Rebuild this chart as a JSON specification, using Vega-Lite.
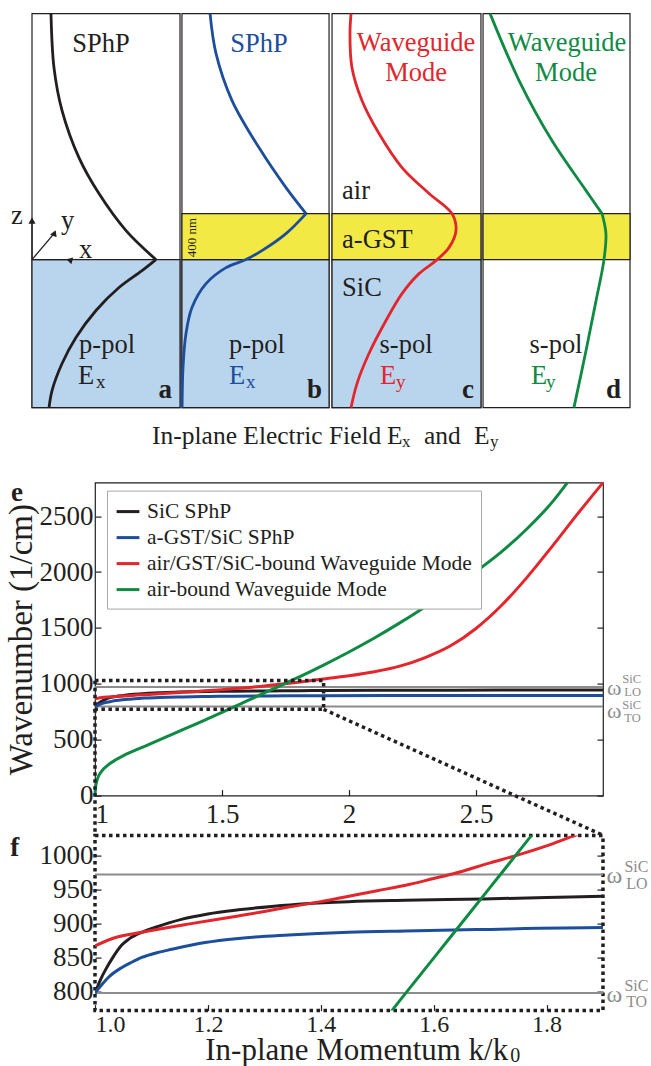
{
  "$schema": "https://vega.github.io/schema/vega-lite/v6.json",
  "autosize": {"type": "pad"},
  "padding": {"left": 4, "top": 7.6, "right": 0, "bottom": 0},
  "background": "white",
  "config": {
    "font": "Liberation Serif",
    "view": {"stroke": null},
    "axis": {"grid": false, "domain": false, "labelFontSize": 27, "labelColor": "#231f20", "tickColor": "#231f20", "tickWidth": 1.2, "tickSize": -6, "titleColor": "#231f20", "titleFontWeight": "normal"}
  },
  "bounds": "flush",
  "spacing": 40,
  "resolve": {"scale": {"color": "independent"}, "legend": {"color": "independent"}},
  "datasets": {
    "curves": [
      {"s": "SiC SPhP", "k": 1.0, "w": 798}, {"s": "SiC SPhP", "k": 1.01, "w": 818}, {"s": "SiC SPhP", "k": 1.02, "w": 834}, {"s": "SiC SPhP", "k": 1.03, "w": 848},
      {"s": "SiC SPhP", "k": 1.047, "w": 868}, {"s": "SiC SPhP", "k": 1.06, "w": 877}, {"s": "SiC SPhP", "k": 1.083, "w": 887}, {"s": "SiC SPhP", "k": 1.106, "w": 894},
      {"s": "SiC SPhP", "k": 1.153, "w": 906}, {"s": "SiC SPhP", "k": 1.2, "w": 914}, {"s": "SiC SPhP", "k": 1.254, "w": 920}, {"s": "SiC SPhP", "k": 1.313, "w": 925},
      {"s": "SiC SPhP", "k": 1.372, "w": 929}, {"s": "SiC SPhP", "k": 1.449, "w": 932}, {"s": "SiC SPhP", "k": 1.55, "w": 934}, {"s": "SiC SPhP", "k": 1.688, "w": 936},
      {"s": "SiC SPhP", "k": 1.8, "w": 938}, {"s": "SiC SPhP", "k": 1.9, "w": 940}, {"s": "SiC SPhP", "k": 2.2, "w": 942}, {"s": "SiC SPhP", "k": 2.6, "w": 944}, {"s": "SiC SPhP", "k": 3.0, "w": 945},
      {"s": "a-GST/SiC SPhP", "k": 1.0, "w": 798}, {"s": "a-GST/SiC SPhP", "k": 1.012, "w": 810}, {"s": "a-GST/SiC SPhP", "k": 1.024, "w": 821}, {"s": "a-GST/SiC SPhP", "k": 1.047, "w": 835},
      {"s": "a-GST/SiC SPhP", "k": 1.065, "w": 843}, {"s": "a-GST/SiC SPhP", "k": 1.083, "w": 850}, {"s": "a-GST/SiC SPhP", "k": 1.11, "w": 857}, {"s": "a-GST/SiC SPhP", "k": 1.136, "w": 862},
      {"s": "a-GST/SiC SPhP", "k": 1.195, "w": 872}, {"s": "a-GST/SiC SPhP", "k": 1.254, "w": 878}, {"s": "a-GST/SiC SPhP", "k": 1.343, "w": 883}, {"s": "a-GST/SiC SPhP", "k": 1.449, "w": 887},
      {"s": "a-GST/SiC SPhP", "k": 1.55, "w": 889}, {"s": "a-GST/SiC SPhP", "k": 1.676, "w": 891}, {"s": "a-GST/SiC SPhP", "k": 1.9, "w": 894}, {"s": "a-GST/SiC SPhP", "k": 2.4, "w": 895}, {"s": "a-GST/SiC SPhP", "k": 3.0, "w": 896},
      {"s": "air/GST/SiC-bound Waveguide Mode", "k": 1.0, "w": 867}, {"s": "air/GST/SiC-bound Waveguide Mode", "k": 1.035, "w": 879}, {"s": "air/GST/SiC-bound Waveguide Mode", "k": 1.083, "w": 887},
      {"s": "air/GST/SiC-bound Waveguide Mode", "k": 1.165, "w": 899}, {"s": "air/GST/SiC-bound Waveguide Mode", "k": 1.254, "w": 911}, {"s": "air/GST/SiC-bound Waveguide Mode", "k": 1.3, "w": 917.5},
      {"s": "air/GST/SiC-bound Waveguide Mode", "k": 1.343, "w": 924}, {"s": "air/GST/SiC-bound Waveguide Mode", "k": 1.4, "w": 932}, {"s": "air/GST/SiC-bound Waveguide Mode", "k": 1.45, "w": 940},
      {"s": "air/GST/SiC-bound Waveguide Mode", "k": 1.5, "w": 948}, {"s": "air/GST/SiC-bound Waveguide Mode", "k": 1.558, "w": 957.5}, {"s": "air/GST/SiC-bound Waveguide Mode", "k": 1.6, "w": 966},
      {"s": "air/GST/SiC-bound Waveguide Mode", "k": 1.635, "w": 973}, {"s": "air/GST/SiC-bound Waveguide Mode", "k": 1.7, "w": 989}, {"s": "air/GST/SiC-bound Waveguide Mode", "k": 1.747, "w": 1000},
      {"s": "air/GST/SiC-bound Waveguide Mode", "k": 1.8, "w": 1014}, {"s": "air/GST/SiC-bound Waveguide Mode", "k": 1.853, "w": 1030}, {"s": "air/GST/SiC-bound Waveguide Mode", "k": 1.9, "w": 1043},
      {"s": "air/GST/SiC-bound Waveguide Mode", "k": 2.0, "w": 1072}, {"s": "air/GST/SiC-bound Waveguide Mode", "k": 2.1, "w": 1108}, {"s": "air/GST/SiC-bound Waveguide Mode", "k": 2.2, "w": 1158},
      {"s": "air/GST/SiC-bound Waveguide Mode", "k": 2.3, "w": 1235}, {"s": "air/GST/SiC-bound Waveguide Mode", "k": 2.4, "w": 1340}, {"s": "air/GST/SiC-bound Waveguide Mode", "k": 2.5, "w": 1495},
      {"s": "air/GST/SiC-bound Waveguide Mode", "k": 2.6, "w": 1700}, {"s": "air/GST/SiC-bound Waveguide Mode", "k": 2.7, "w": 1950}, {"s": "air/GST/SiC-bound Waveguide Mode", "k": 2.8, "w": 2230},
      {"s": "air/GST/SiC-bound Waveguide Mode", "k": 2.9, "w": 2520}, {"s": "air/GST/SiC-bound Waveguide Mode", "k": 3.0, "w": 2800},
      {"s": "air-bound Waveguide Mode", "k": 1.0, "w": 0}, {"s": "air-bound Waveguide Mode", "k": 1.002, "w": 70}, {"s": "air-bound Waveguide Mode", "k": 1.006, "w": 120},
      {"s": "air-bound Waveguide Mode", "k": 1.012, "w": 165}, {"s": "air-bound Waveguide Mode", "k": 1.025, "w": 215}, {"s": "air-bound Waveguide Mode", "k": 1.047, "w": 265},
      {"s": "air-bound Waveguide Mode", "k": 1.08, "w": 318}, {"s": "air-bound Waveguide Mode", "k": 1.112, "w": 358}, {"s": "air-bound Waveguide Mode", "k": 1.2, "w": 445},
      {"s": "air-bound Waveguide Mode", "k": 1.276, "w": 520}, {"s": "air-bound Waveguide Mode", "k": 1.35, "w": 594}, {"s": "air-bound Waveguide Mode", "k": 1.439, "w": 682},
      {"s": "air-bound Waveguide Mode", "k": 1.5, "w": 744}, {"s": "air-bound Waveguide Mode", "k": 1.526, "w": 772}, {"s": "air-bound Waveguide Mode", "k": 1.6, "w": 849},
      {"s": "air-bound Waveguide Mode", "k": 1.65, "w": 901}, {"s": "air-bound Waveguide Mode", "k": 1.7, "w": 953}, {"s": "air-bound Waveguide Mode", "k": 1.774, "w": 1030},
      {"s": "air-bound Waveguide Mode", "k": 1.85, "w": 1112}, {"s": "air-bound Waveguide Mode", "k": 1.9, "w": 1168}, {"s": "air-bound Waveguide Mode", "k": 2.0, "w": 1285},
      {"s": "air-bound Waveguide Mode", "k": 2.1, "w": 1410}, {"s": "air-bound Waveguide Mode", "k": 2.2, "w": 1545}, {"s": "air-bound Waveguide Mode", "k": 2.3, "w": 1690},
      {"s": "air-bound Waveguide Mode", "k": 2.4, "w": 1848}, {"s": "air-bound Waveguide Mode", "k": 2.5, "w": 2005}, {"s": "air-bound Waveguide Mode", "k": 2.6, "w": 2180},
      {"s": "air-bound Waveguide Mode", "k": 2.7, "w": 2385}, {"s": "air-bound Waveguide Mode", "k": 2.8, "w": 2625}, {"s": "air-bound Waveguide Mode", "k": 2.86, "w": 2800}
    ],
    "profiles": [
      {"c": "k", "seg": "a1", "i": 0, "u": 0.127, "z": 2139}, {"c": "k", "seg": "a1", "i": 1, "u": 0.147, "z": 1670}, {"c": "k", "seg": "a1", "i": 2, "u": 0.201, "z": 1296},
      {"c": "k", "seg": "a1", "i": 3, "u": 0.314, "z": 887}, {"c": "k", "seg": "a1", "i": 4, "u": 0.448, "z": 574}, {"c": "k", "seg": "a1", "i": 5, "u": 0.629, "z": 252}, {"c": "k", "seg": "a1", "i": 6, "u": 0.829, "z": 0},
      {"c": "k", "seg": "a2", "i": 0, "u": 0.829, "z": 0}, {"c": "k", "seg": "a2", "i": 1, "u": 0.736, "z": -96}, {"c": "k", "seg": "a2", "i": 2, "u": 0.582, "z": -243},
      {"c": "k", "seg": "a2", "i": 3, "u": 0.428, "z": -443}, {"c": "k", "seg": "a2", "i": 4, "u": 0.294, "z": -678}, {"c": "k", "seg": "a2", "i": 5, "u": 0.201, "z": -904},
      {"c": "k", "seg": "a2", "i": 6, "u": 0.134, "z": -1139}, {"c": "k", "seg": "a2", "i": 7, "u": 0.114, "z": -1287},
      {"c": "b", "seg": "b1", "i": 0, "u": 1.191, "z": 2139}, {"c": "b", "seg": "b1", "i": 1, "u": 1.231, "z": 1791}, {"c": "b", "seg": "b1", "i": 2, "u": 1.338, "z": 1383},
      {"c": "b", "seg": "b1", "i": 3, "u": 1.518, "z": 974}, {"c": "b", "seg": "b1", "i": 4, "u": 1.699, "z": 626}, {"c": "b", "seg": "b1", "i": 5, "u": 1.833, "z": 400},
      {"c": "b", "seg": "b2", "i": 0, "u": 1.833, "z": 400}, {"c": "b", "seg": "b2", "i": 1, "u": 1.699, "z": 226}, {"c": "b", "seg": "b2", "i": 2, "u": 1.538, "z": 78},
      {"c": "b", "seg": "b2", "i": 3, "u": 1.431, "z": 0}, {"c": "b", "seg": "b2", "i": 4, "u": 1.298, "z": -70}, {"c": "b", "seg": "b2", "i": 5, "u": 1.164, "z": -209},
      {"c": "b", "seg": "b2", "i": 6, "u": 1.07, "z": -417}, {"c": "b", "seg": "b2", "i": 7, "u": 1.03, "z": -643}, {"c": "b", "seg": "b2", "i": 8, "u": 1.01, "z": -939}, {"c": "b", "seg": "b2", "i": 9, "u": 1.004, "z": -1287},
      {"c": "r", "seg": "c1", "i": 0, "u": 2.134, "z": 2139}, {"c": "r", "seg": "c1", "i": 1, "u": 2.127, "z": 1965}, {"c": "r", "seg": "c1", "i": 2, "u": 2.14, "z": 1670},
      {"c": "r", "seg": "c1", "i": 3, "u": 2.207, "z": 1383}, {"c": "r", "seg": "c1", "i": 4, "u": 2.321, "z": 1096}, {"c": "r", "seg": "c1", "i": 5, "u": 2.475, "z": 800},
      {"c": "r", "seg": "c1", "i": 6, "u": 2.656, "z": 574}, {"c": "r", "seg": "c1", "i": 7, "u": 2.809, "z": 400}, {"c": "r", "seg": "c1", "i": 8, "u": 2.836, "z": 252},
      {"c": "r", "seg": "c1", "i": 9, "u": 2.789, "z": 104}, {"c": "r", "seg": "c1", "i": 10, "u": 2.702, "z": -9}, {"c": "r", "seg": "c1", "i": 11, "u": 2.589, "z": -122},
      {"c": "r", "seg": "c1", "i": 12, "u": 2.475, "z": -296}, {"c": "r", "seg": "c1", "i": 13, "u": 2.368, "z": -530}, {"c": "r", "seg": "c1", "i": 14, "u": 2.254, "z": -817},
      {"c": "r", "seg": "c1", "i": 15, "u": 2.174, "z": -1078}, {"c": "r", "seg": "c1", "i": 16, "u": 2.134, "z": -1287},
      {"c": "g", "seg": "d1", "i": 0, "u": 3.064, "z": 2139}, {"c": "g", "seg": "d1", "i": 1, "u": 3.258, "z": 1557}, {"c": "g", "seg": "d1", "i": 2, "u": 3.478, "z": 1035},
      {"c": "g", "seg": "d1", "i": 3, "u": 3.706, "z": 600}, {"c": "g", "seg": "d1", "i": 4, "u": 3.813, "z": 400},
      {"c": "g", "seg": "d2", "i": 0, "u": 3.813, "z": 400}, {"c": "g", "seg": "d2", "i": 1, "u": 3.839, "z": 226}, {"c": "g", "seg": "d2", "i": 2, "u": 3.826, "z": 0},
      {"c": "g", "seg": "d2", "i": 3, "u": 3.773, "z": -357}, {"c": "g", "seg": "d2", "i": 4, "u": 3.706, "z": -791}, {"c": "g", "seg": "d2", "i": 5, "u": 3.625, "z": -1287}
    ]
  },
  "vconcat": [
    {
      "width": 508,
      "height": 429,
      "encoding": {
        "x": {"field": "u", "type": "quantitative", "scale": {"domain": [0.4214, 3.8194], "nice": false, "zero": false}, "axis": null},
        "y": {"field": "z", "type": "quantitative", "scale": {"domain": [-1591.4, 2139.1], "nice": false, "zero": false}, "axis": null}
      },
      "layer": [
        {
          "data": {"values": [
            {"u": 0, "u2": 0.99, "z": -1287, "z2": 2139, "m": "air"},
            {"u": 1.003, "u2": 1.987, "z": -1287, "z2": 2139, "m": "air"},
            {"u": 2.007, "u2": 3.003, "z": -1287, "z2": 2139, "m": "air"},
            {"u": 3.017, "u2": 4.0, "z": -1287, "z2": 2139, "m": "air"},
            {"u": 0, "u2": 0.99, "z": -1287, "z2": 0, "m": "SiC"},
            {"u": 1.003, "u2": 1.987, "z": -1287, "z2": 0, "m": "SiC"},
            {"u": 2.007, "u2": 3.003, "z": -1287, "z2": 0, "m": "SiC"},
            {"u": 1.003, "u2": 1.987, "z": 0, "z2": 400, "m": "GST"},
            {"u": 2.007, "u2": 3.003, "z": 0, "z2": 400, "m": "GST"},
            {"u": 3.017, "u2": 4.0, "z": 0, "z2": 400, "m": "GST"}
          ]},
          "mark": {"type": "rect", "stroke": "#231f20", "strokeWidth": 1.2},
          "encoding": {
            "x2": {"field": "u2"},
            "y2": {"field": "z2"},
            "fill": {"field": "m", "type": "nominal", "scale": {"domain": ["air", "SiC", "GST"], "range": ["#ffffff", "#b9d5ee", "#f3e944"]}, "legend": null}
          }
        },
        {
          "data": {"values": [
            {"u": 0, "z": 0, "u2": 0, "z2": 350},
            {"u": 0, "z": 0, "u2": 0.265, "z2": 0},
            {"u": 0, "z": 0, "u2": 0.153, "z2": 235}
          ]},
          "mark": {"type": "rule", "color": "#231f20", "strokeWidth": 1.3},
          "encoding": {"x2": {"field": "u2"}, "y2": {"field": "z2"}}
        },
        {
          "data": {"values": [
            {"u": 0, "z": 339, "dir": "z"},
            {"u": 0.261, "z": 0, "dir": "x"},
            {"u": 0.1505, "z": 230, "dir": "y"}
          ]},
          "mark": {"type": "point", "shape": "triangle-up", "filled": true, "size": 50, "color": "#231f20", "opacity": 1},
          "encoding": {"angle": {"field": "dir", "type": "nominal", "scale": {"domain": ["z", "y", "x"], "range": [0, 45, 90]}, "legend": null}}
        },
        {
          "data": {"name": "profiles"},
          "mark": {"type": "line", "strokeWidth": 2.8, "interpolate": "catmull-rom"},
          "encoding": {
            "color": {"field": "c", "type": "nominal", "scale": {"domain": ["k", "b", "r", "g"], "range": ["#231f20", "#1d4e9b", "#e3262c", "#0f8a43"]}, "legend": null},
            "detail": {"field": "seg"},
            "order": {"field": "i", "type": "quantitative"}
          }
        },
        {
          "data": {"values": [
            {"u": 0.4615, "z": 1809, "t": "SPhP", "c": "k"},
            {"u": 0.502, "z": -809, "t": "p-pol", "c": "k"},
            {"u": 1.518, "z": 1809, "t": "SPhP", "c": "b"},
            {"u": 1.505, "z": -809, "t": "p-pol", "c": "k"},
            {"u": 2.569, "z": 1817, "t": "Waveguide", "c": "r"},
            {"u": 2.569, "z": 1557, "t": "Mode", "c": "r"},
            {"u": 2.502, "z": -809, "t": "s-pol", "c": "k"},
            {"u": 3.579, "z": 1817, "t": "Waveguide", "c": "g"},
            {"u": 3.572, "z": 1557, "t": "Mode", "c": "g"},
            {"u": 3.505, "z": -809, "t": "s-pol", "c": "k"}
          ]},
          "mark": {"type": "text", "fontSize": 26.5, "align": "center", "baseline": "alphabetic"},
          "encoding": {"text": {"field": "t"}, "color": {"field": "c", "type": "nominal", "legend": null}}
        },
        {
          "data": {"values": [
            {"u": 2.074, "z": 530, "t": "air", "c": "k"},
            {"u": 2.074, "z": 104, "t": "a-GST", "c": "k"},
            {"u": 2.074, "z": -313, "t": "SiC", "c": "k"},
            {"u": 0.308, "z": -1078, "t": "E", "c": "k"},
            {"u": 1.318, "z": -1078, "t": "E", "c": "b"},
            {"u": 2.328, "z": -1078, "t": "E", "c": "r"},
            {"u": 3.338, "z": -1078, "t": "E", "c": "g"},
            {"u": -0.14, "z": 313, "t": "z", "c": "k"},
            {"u": 0.194, "z": 270, "t": "y", "c": "k"},
            {"u": 0.314, "z": 17, "t": "x", "c": "k"}
          ]},
          "mark": {"type": "text", "fontSize": 26.5, "align": "left", "baseline": "alphabetic"},
          "encoding": {"text": {"field": "t"}, "color": {"field": "c", "type": "nominal", "legend": null}}
        },
        {
          "data": {"values": [
            {"u": 0.428, "z": -1113, "t": "x", "c": "k"},
            {"u": 1.431, "z": -1113, "t": "x", "c": "b"},
            {"u": 2.435, "z": -1113, "t": "y", "c": "r"},
            {"u": 3.438, "z": -1113, "t": "y", "c": "g"}
          ]},
          "mark": {"type": "text", "fontSize": 19, "align": "left", "baseline": "alphabetic"},
          "encoding": {"text": {"field": "t"}, "color": {"field": "c", "type": "nominal", "legend": null}}
        },
        {
          "data": {"values": [
            {"u": 0.936, "z": -1200, "t": "a"},
            {"u": 1.94, "z": -1200, "t": "b"},
            {"u": 2.957, "z": -1200, "t": "c"},
            {"u": 3.94, "z": -1200, "t": "d"}
          ]},
          "mark": {"type": "text", "fontSize": 27, "fontWeight": "bold", "align": "right", "baseline": "alphabetic", "color": "#231f20"},
          "encoding": {"text": {"field": "t"}}
        },
        {
          "data": {"values": [{"u": 1.07, "z": 191, "t": "400 nm"}]},
          "mark": {"type": "text", "fontSize": 13, "angle": 270, "align": "center", "baseline": "middle", "color": "#231f20"},
          "encoding": {"text": {"field": "t"}}
        },
        {
          "data": {"values": [
            {"u": 0.803, "z": -1600, "t": "In-plane Electric Field"},
            {"u": 2.375, "z": -1600, "t": "E"},
            {"u": 2.622, "z": -1600, "t": "and"},
            {"u": 2.957, "z": -1600, "t": "E"}
          ]},
          "mark": {"type": "text", "fontSize": 25.5, "align": "left", "baseline": "alphabetic", "color": "#231f20"},
          "encoding": {"text": {"field": "t"}}
        },
        {
          "data": {"values": [
            {"u": 2.475, "z": -1626, "t": "x"},
            {"u": 3.064, "z": -1626, "t": "y"}
          ]},
          "mark": {"type": "text", "fontSize": 17, "align": "left", "baseline": "alphabetic", "color": "#231f20"},
          "encoding": {"text": {"field": "t"}}
        }
      ]
    },
    {
      "width": 508,
      "height": 313,
      "view": {"stroke": "#231f20", "strokeWidth": 1.2},
      "resolve": {"axis": {"y": "independent"}},
      "layer": [
        {
          "data": {"values": [{"w": 972}, {"w": 798}]},
          "mark": {"type": "rule", "color": "#8c8c8c", "strokeWidth": 2},
          "encoding": {
            "y": {"field": "w", "type": "quantitative", "scale": {"domain": [0, 2800], "nice": false, "zero": false}, "axis": null}
          }
        },
        {
          "data": {"name": "curves"},
          "mark": {"type": "line", "strokeWidth": 3, "interpolate": "monotone"},
          "encoding": {
            "x": {"field": "k", "type": "quantitative", "scale": {"domain": [1, 3], "nice": false, "zero": false},
                  "axis": {"values": [1, 1.5, 2, 2.5], "format": "~g", "title": null, "labelPadding": 12, "labelFlush": true}},
            "y": {"field": "w", "type": "quantitative", "scale": {"domain": [0, 2800], "nice": false, "zero": false},
                  "axis": {"orient": "left", "values": [0, 500, 1000, 1500, 2000, 2500], "format": "d", "title": "Wavenumber (1/cm)", "titleFontSize": 33, "titleX": -74, "titleBaseline": "middle", "labelPadding": 8}},
            "color": {"field": "s", "type": "nominal",
                      "scale": {"domain": ["SiC SPhP", "a-GST/SiC SPhP", "air/GST/SiC-bound Waveguide Mode", "air-bound Waveguide Mode"], "range": ["#231f20", "#1d4e9b", "#e3262c", "#0f8a43"]},
                      "legend": {"orient": "none", "legendX": 12, "legendY": 8, "title": null, "symbolType": "stroke", "symbolStrokeWidth": 3, "symbolSize": 520, "labelFontSize": 21.5, "labelColor": "#231f20", "labelLimit": 0, "labelOffset": 6, "fillColor": "white", "strokeColor": "#a8a8a8", "padding": 8, "rowPadding": 2}}
          }
        },
        {
          "data": {"values": [{"k": 1, "k2": 1.9, "w": 772, "w2": 1029}]},
          "mark": {"type": "rect", "fillOpacity": 0, "stroke": "#231f20", "strokeWidth": 3.5, "strokeDash": [3.5, 3.5]},
          "encoding": {
            "x": {"field": "k", "type": "quantitative", "scale": {"domain": [1, 3], "nice": false, "zero": false}},
            "x2": {"field": "k2"},
            "y": {"field": "w", "type": "quantitative", "scale": {"domain": [0, 2800], "nice": false, "zero": false}, "axis": null},
            "y2": {"field": "w2"}
          }
        },
        {
          "data": {"values": [{"k": 1, "w": 772, "k2": 1, "w2": -355}, {"k": 1.9, "w": 772, "k2": 3.0, "w2": -355}]},
          "mark": {"type": "rule", "color": "#231f20", "strokeWidth": 3.5, "strokeDash": [3.5, 3.5]},
          "encoding": {
            "x": {"field": "k", "type": "quantitative", "scale": {"domain": [1, 3], "nice": false, "zero": false}},
            "x2": {"field": "k2"},
            "y": {"field": "w", "type": "quantitative", "scale": {"domain": [0, 2800], "nice": false, "zero": false}, "axis": null},
            "y2": {"field": "w2"}
          }
        },
        {
          "data": {"values": [{"k": 0.669, "w": 2639, "t": "e"}]},
          "mark": {"type": "text", "fontSize": 27, "fontWeight": "bold", "align": "left", "baseline": "alphabetic", "color": "#231f20"},
          "encoding": {
            "x": {"field": "k", "type": "quantitative", "scale": {"domain": [1, 3], "nice": false, "zero": false}},
            "y": {"field": "w", "type": "quantitative", "scale": {"domain": [0, 2800], "nice": false, "zero": false}, "axis": null},
            "text": {"field": "t"}
          }
        },
        {
          "data": {"values": [{"k": 3.016, "w": 966}, {"k": 3.016, "w": 760}]},
          "mark": {"type": "text", "text": "ω", "fontSize": 22, "align": "left", "baseline": "middle", "color": "#8c8c8c"},
          "encoding": {
            "x": {"field": "k", "type": "quantitative", "scale": {"domain": [1, 3], "nice": false, "zero": false}},
            "y": {"field": "w", "type": "quantitative", "scale": {"domain": [0, 2800], "nice": false, "zero": false},
                  "axis": {"orient": "right", "labels": false, "title": null, "values": [0, 500, 1000, 1500, 2000, 2500]}}
          }
        },
        {
          "data": {"values": [{"k": 3.076, "w": 1042, "t": "SiC"}, {"k": 3.076, "w": 809.5, "t": "SiC"}, {"k": 3.084, "w": 926, "t": "LO"}, {"k": 3.084, "w": 693, "t": "TO"}]},
          "mark": {"type": "text", "fontSize": 12.5, "align": "left", "baseline": "middle", "color": "#8c8c8c"},
          "encoding": {
            "x": {"field": "k", "type": "quantitative", "scale": {"domain": [1, 3], "nice": false, "zero": false}},
            "y": {"field": "w", "type": "quantitative", "scale": {"domain": [0, 2800], "nice": false, "zero": false}, "axis": null},
            "text": {"field": "t"}
          }
        }
      ]
    },
    {
      "width": 508,
      "height": 175,
      "view": {"stroke": "#231f20", "strokeWidth": 3.5, "strokeDash": [3.5, 3.5]},
      "resolve": {"axis": {"y": "independent"}},
      "layer": [
        {
          "data": {"values": [{"w": 972}, {"w": 798}]},
          "mark": {"type": "rule", "color": "#8c8c8c", "strokeWidth": 2},
          "encoding": {
            "y": {"field": "w", "type": "quantitative", "scale": {"domain": [772, 1029], "nice": false, "zero": false}, "axis": null}
          }
        },
        {
          "data": {"name": "curves"},
          "mark": {"type": "line", "strokeWidth": 3, "interpolate": "monotone", "clip": true},
          "encoding": {
            "x": {"field": "k", "type": "quantitative", "scale": {"domain": [1, 1.9], "nice": false, "zero": false},
                  "axis": {"values": [1, 1.2, 1.4, 1.6, 1.8], "format": ".1f", "title": null, "labelPadding": 8, "labelFontSize": 24, "labelFlush": true}},
            "y": {"field": "w", "type": "quantitative", "scale": {"domain": [772, 1029], "nice": false, "zero": false},
                  "axis": {"orient": "left", "values": [800, 850, 900, 950, 1000], "format": "d", "title": null, "labelPadding": 8}},
            "color": {"field": "s", "type": "nominal",
                      "scale": {"domain": ["SiC SPhP", "a-GST/SiC SPhP", "air/GST/SiC-bound Waveguide Mode", "air-bound Waveguide Mode"], "range": ["#231f20", "#1d4e9b", "#e3262c", "#0f8a43"]},
                      "legend": null}
          }
        },
        {
          "data": {"values": [{"k": 0.85, "w": 999, "t": "f"}]},
          "mark": {"type": "text", "fontSize": 27, "fontWeight": "bold", "align": "left", "baseline": "alphabetic", "color": "#231f20"},
          "encoding": {
            "x": {"field": "k", "type": "quantitative", "scale": {"domain": [1, 1.9], "nice": false, "zero": false}},
            "y": {"field": "w", "type": "quantitative", "scale": {"domain": [772, 1029], "nice": false, "zero": false}, "axis": null},
            "text": {"field": "t"}
          }
        },
        {
          "data": {"values": [{"k": 1.1954, "w": 700, "t": "In-plane Momentum k/k"}]},
          "mark": {"type": "text", "fontSize": 31, "align": "left", "baseline": "alphabetic", "color": "#231f20"},
          "encoding": {
            "x": {"field": "k", "type": "quantitative", "scale": {"domain": [1, 1.9], "nice": false, "zero": false}},
            "y": {"field": "w", "type": "quantitative", "scale": {"domain": [772, 1029], "nice": false, "zero": false}, "axis": null},
            "text": {"field": "t"}
          }
        },
        {
          "data": {"values": [{"k": 1.7358, "w": 697.1, "t": "0"}]},
          "mark": {"type": "text", "fontSize": 20, "align": "left", "baseline": "alphabetic", "color": "#231f20"},
          "encoding": {
            "x": {"field": "k", "type": "quantitative", "scale": {"domain": [1, 1.9], "nice": false, "zero": false}},
            "y": {"field": "w", "type": "quantitative", "scale": {"domain": [772, 1029], "nice": false, "zero": false}, "axis": null},
            "text": {"field": "t"}
          }
        },
        {
          "data": {"values": [{"k": 1.906, "w": 972}, {"k": 1.906, "w": 798}]},
          "mark": {"type": "text", "text": "ω", "fontSize": 24, "align": "left", "baseline": "middle", "dy": 2, "color": "#8c8c8c"},
          "encoding": {
            "x": {"field": "k", "type": "quantitative", "scale": {"domain": [1, 1.9], "nice": false, "zero": false}},
            "y": {"field": "w", "type": "quantitative", "scale": {"domain": [772, 1029], "nice": false, "zero": false},
                  "axis": {"orient": "right", "labels": false, "title": null, "values": [800, 850, 900, 950, 1000]}}
          }
        },
        {
          "data": {"values": [{"k": 1.938, "w": 972}, {"k": 1.938, "w": 798}]},
          "mark": {"type": "text", "text": "SiC", "fontSize": 16, "align": "left", "baseline": "middle", "dy": -7, "color": "#8c8c8c"},
          "encoding": {
            "x": {"field": "k", "type": "quantitative", "scale": {"domain": [1, 1.9], "nice": false, "zero": false}},
            "y": {"field": "w", "type": "quantitative", "scale": {"domain": [772, 1029], "nice": false, "zero": false}, "axis": null}
          }
        },
        {
          "data": {"values": [{"k": 1.941, "w": 972, "t": "LO"}, {"k": 1.941, "w": 798, "t": "TO"}]},
          "mark": {"type": "text", "fontSize": 16, "align": "left", "baseline": "middle", "dy": 9.5, "color": "#8c8c8c"},
          "encoding": {
            "x": {"field": "k", "type": "quantitative", "scale": {"domain": [1, 1.9], "nice": false, "zero": false}},
            "y": {"field": "w", "type": "quantitative", "scale": {"domain": [772, 1029], "nice": false, "zero": false}, "axis": null},
            "text": {"field": "t"}
          }
        }
      ]
    }
  ]
}
